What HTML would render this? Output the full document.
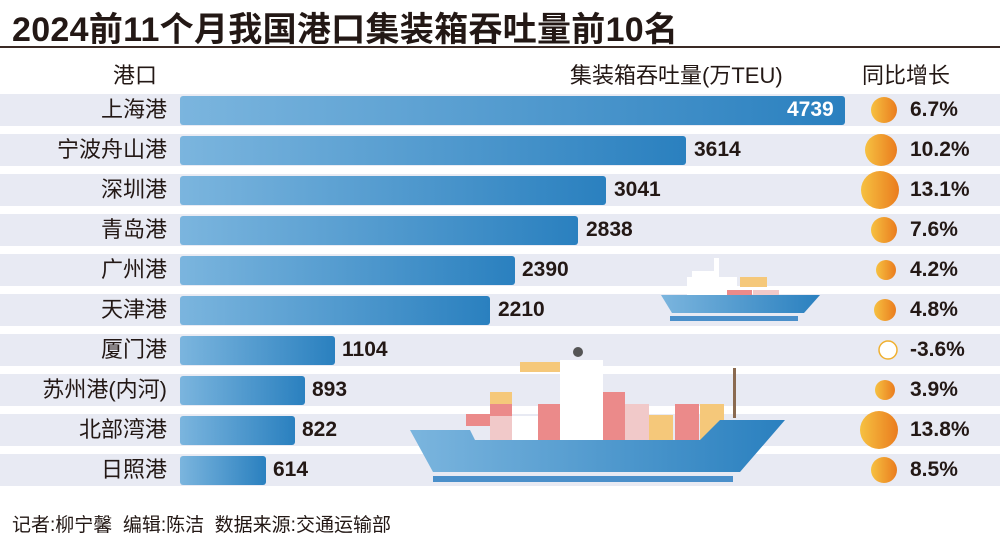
<!DOCTYPE html>
<html><head><meta charset="utf-8"><style>
body{margin:0;width:1000px;height:547px;background:#fff;overflow:hidden;position:relative;font-family:"Liberation Sans","Noto Sans CJK SC",sans-serif;color:#231815}
.t{position:absolute;white-space:nowrap}
.v{position:absolute;white-space:nowrap;line-height:40px;font-size:21px;font-weight:bold}
</style></head><body>
<svg width="1000" height="547" style="position:absolute;left:0;top:0">
<defs>
<linearGradient id="bg" x1="0" x2="1"><stop offset="0" stop-color="#7bb5de"/><stop offset="1" stop-color="#2a80bf"/></linearGradient>
<linearGradient id="og" x1="0" x2="1"><stop offset="0" stop-color="#f6c141"/><stop offset="1" stop-color="#ea7c1e"/></linearGradient>
</defs>
<line x1="0" y1="47" x2="1000" y2="47" stroke="#3a2a25" stroke-width="2"/>
<g fill="#e8eaf3">
<rect x="0" y="94" width="1000" height="32"/><rect x="0" y="134" width="1000" height="32"/><rect x="0" y="174" width="1000" height="32"/><rect x="0" y="214" width="1000" height="32"/><rect x="0" y="254" width="1000" height="32"/><rect x="0" y="294" width="1000" height="32"/><rect x="0" y="334" width="1000" height="32"/><rect x="0" y="374" width="1000" height="32"/><rect x="0" y="414" width="1000" height="32"/><rect x="0" y="454" width="1000" height="32"/>
</g>
<g fill="url(#bg)">
<rect x="180" y="96" width="665" height="29" rx="3"/>
<rect x="180" y="136" width="506" height="29" rx="3"/>
<rect x="180" y="176" width="426" height="29" rx="3"/>
<rect x="180" y="216" width="398" height="29" rx="3"/>
<rect x="180" y="256" width="335" height="29" rx="3"/>
<rect x="180" y="296" width="310" height="29" rx="3"/>
<rect x="180" y="336" width="155" height="29" rx="3"/>
<rect x="180" y="376" width="125" height="29" rx="3"/>
<rect x="180" y="416" width="115" height="29" rx="3"/>
<rect x="180" y="456" width="86" height="29" rx="3"/>
</g>
<g fill="url(#og)">
<circle cx="884" cy="110" r="13"/><circle cx="881" cy="150" r="16"/><circle cx="880" cy="190" r="19"/><circle cx="884" cy="230" r="13"/><circle cx="886" cy="270" r="10"/><circle cx="885" cy="310" r="11"/><circle cx="885" cy="390" r="10"/><circle cx="879" cy="430" r="19"/><circle cx="884" cy="470" r="13"/>
</g>
<circle cx="888" cy="350" r="9" fill="#fff" stroke="#f0b030" stroke-width="1.5"/>
<g>
<rect x="687" y="277" width="50" height="18" fill="#fff"/><rect x="692" y="271" width="22" height="8" fill="#fff"/>
<rect x="714" y="258" width="5" height="35" fill="#fff"/>
<rect x="740" y="277" width="27" height="10" fill="#f5c87a"/><rect x="727" y="290" width="25" height="10" fill="#eb8a8a"/><rect x="753" y="290" width="26" height="10" fill="#f1c9c9"/>
<path d="M661 295 L820 295 L804 313 L672 313 Z" fill="url(#bg)"/>
<rect x="670" y="316" width="128" height="5" fill="#4a8fca"/>
</g>
<g>
<rect x="520" y="362" width="40" height="10" fill="#f5c87a"/><circle cx="578" cy="352" r="5" fill="#555"/>
<rect x="560" y="360" width="43" height="100" fill="#fff"/>
<rect x="490" y="392" width="22" height="12" fill="#f5c87a"/><rect x="490" y="404" width="22" height="12" fill="#eb8a8a"/>
<rect x="466" y="414" width="24" height="12" fill="#eb8a8a"/>
<rect x="490" y="416" width="22" height="24" fill="#f1c9c9"/><rect x="512" y="416" width="26" height="24" fill="#fff"/><rect x="538" y="404" width="22" height="36" fill="#eb8a8a"/>
<rect x="603" y="392" width="22" height="48" fill="#eb8a8a"/><rect x="625" y="404" width="24" height="36" fill="#f1c9c9"/><rect x="649" y="415" width="24" height="25" fill="#f5c87a"/><rect x="675" y="404" width="24" height="36" fill="#eb8a8a"/><rect x="700" y="404" width="24" height="36" fill="#f5c87a"/>
<rect x="733" y="368" width="3" height="50" fill="#8a6a50"/>
<path d="M410 430 L470 430 L475 440 L700 440 L720 420 L785 420 L740 472 L433 472 Z" fill="url(#bg)"/>
<rect x="433" y="476" width="300" height="6" fill="#4a8fca"/>
</g>
</svg>
<div class="t" style="left:12px;top:2px;font-size:34px;font-weight:bold;letter-spacing:0.3px">2024前11个月我国港口集装箱吞吐量前10名</div>
<div class="t" style="left:113px;top:58px;font-size:22px">港口</div>
<div class="t" style="left:570px;top:58px;font-size:22px">集装箱吞吐量(万TEU)</div>
<div class="t" style="left:862px;top:58px;font-size:22px">同比增长</div>
<div style="position:absolute;left:0;top:90px;width:167px;text-align:right;font-size:22px;line-height:40px">上海港<br>宁波舟山港<br>深圳港<br>青岛港<br>广州港<br>天津港<br>厦门港<br>苏州港(内河)<br>北部湾港<br>日照港</div>
<div class="v" style="left:787px;top:90px;color:#fff">4739</div>
<div class="v" style="left:694px;top:130px">3614</div>
<div class="v" style="left:614px;top:170px">3041</div>
<div class="v" style="left:586px;top:210px">2838</div>
<div class="v" style="left:522px;top:250px">2390</div>
<div class="v" style="left:498px;top:290px">2210</div>
<div class="v" style="left:342px;top:330px">1104</div>
<div class="v" style="left:312px;top:370px">893</div>
<div class="v" style="left:302px;top:410px">822</div>
<div class="v" style="left:273px;top:450px">614</div>
<div style="position:absolute;left:910px;top:90px;font-size:21px;font-weight:bold;line-height:40px">6.7%<br>10.2%<br>13.1%<br>7.6%<br>4.2%<br>4.8%<br>-3.6%<br>3.9%<br>13.8%<br>8.5%</div>
<div class="t" style="left:12px;top:510px;font-size:19px">记者:柳宁馨&nbsp;&nbsp;编辑:陈洁&nbsp;&nbsp;数据来源:交通运输部</div>
</body></html>
